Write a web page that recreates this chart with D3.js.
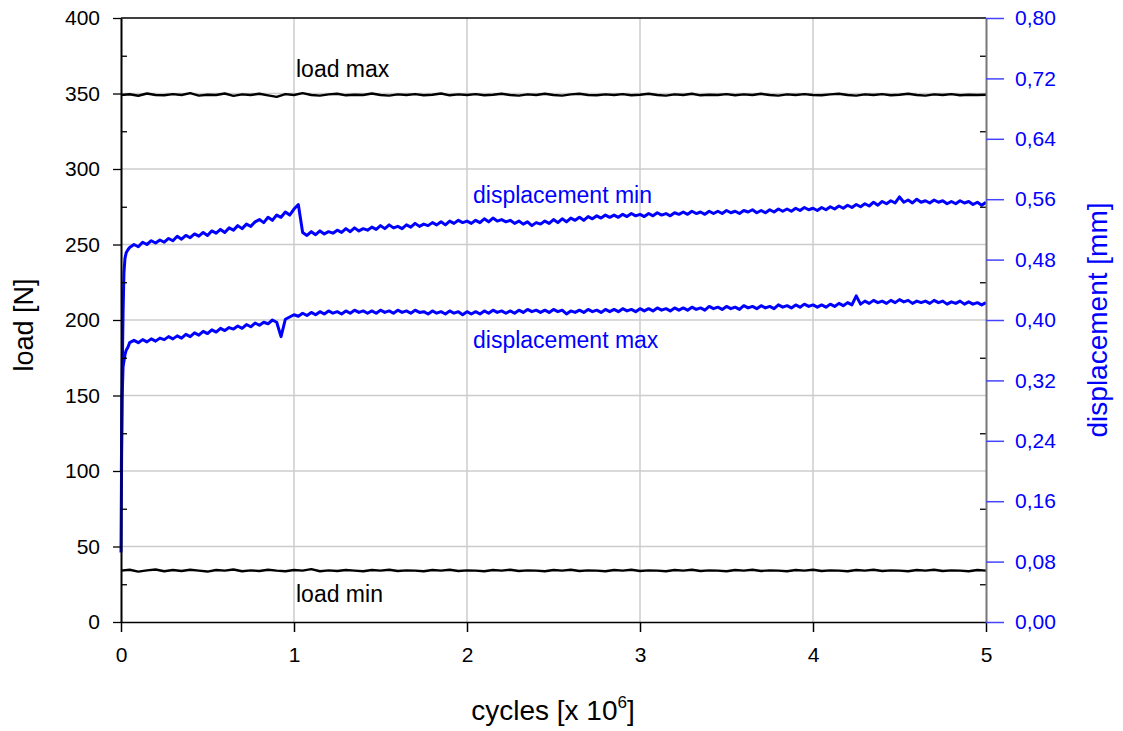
<!DOCTYPE html>
<html>
<head>
<meta charset="utf-8">
<script src="https://cdn.jsdelivr.net/npm/d3@7"></script>
<style>
  html, body { margin: 0; padding: 0; background: #ffffff; }
  svg { display: block; font-family: "Liberation Sans", Arial, sans-serif; }
</style>
</head>
<body>
<svg id="chart" width="1123" height="731"></svg>
<script>
// ---------------- data ----------------
const xTicks = [0, 1, 2, 3, 4, 5];
const loadTicks = [0, 50, 100, 150, 200, 250, 300, 350, 400];
const loadMinorTicks = [25, 75, 125, 175, 225, 275, 325, 375];
const dispTicks = [0, 0.08, 0.16, 0.24, 0.32, 0.40, 0.48, 0.56, 0.64, 0.72, 0.80];

// load series sampled every 0.05 x10^6 cycles, from 0 to 5
const loadStep = 0.05;
const loadMax = [
  349.0,349.5,348.5,350.0,349.0,348.8,349.6,349.0,350.2,348.6,
  349.2,349.0,350.0,348.4,349.4,349.0,349.8,348.8,347.8,349.6,
  349.0,350.2,349.0,348.6,349.4,349.8,348.8,349.2,349.0,350.0,
  349.0,348.6,349.4,349.0,349.6,348.8,349.2,350.0,348.8,349.4,
  349.0,349.6,348.8,349.2,349.8,349.0,348.6,349.4,349.0,349.8,
  349.0,348.6,349.4,349.8,349.0,348.8,349.4,349.0,349.6,348.8,
  349.2,349.8,349.0,348.6,349.4,349.0,349.8,348.8,349.2,349.0,
  349.6,348.8,349.4,349.0,349.8,349.0,348.6,349.4,349.0,349.6,
  349.0,348.8,349.4,349.8,349.0,348.6,349.4,349.0,349.6,348.8,
  349.2,349.8,349.0,348.6,349.4,349.0,349.6,348.8,349.2,349.0,349.2
];
const loadMin = [
  34.0,34.6,33.4,34.2,34.8,33.6,34.4,33.8,34.6,34.0,
  33.4,34.4,34.0,34.8,33.6,34.2,33.8,34.6,34.0,33.6,
  34.4,34.0,35.0,33.6,34.2,33.8,34.4,34.0,33.6,34.4,
  34.0,34.6,33.8,34.2,34.0,33.6,34.4,34.0,34.6,33.8,
  34.2,34.0,33.6,34.4,34.0,34.6,33.8,34.2,34.0,33.6,
  34.4,34.0,34.6,33.8,34.2,34.0,33.6,34.4,34.0,34.6,
  33.8,34.2,34.0,33.6,34.4,34.0,34.6,33.8,34.2,34.0,
  33.6,34.4,34.0,34.6,33.8,34.2,34.0,33.6,34.4,34.0,
  34.6,33.8,34.2,34.0,33.6,34.4,34.0,34.6,33.8,34.2,
  34.0,33.6,34.4,34.0,34.6,33.8,34.2,34.0,33.6,34.4,34.0
];

// displacement start-up phase: [cycles x10^6, mm]
const dispMinStart = [[0.002,0.200],[0.007,0.330],[0.012,0.410],[0.017,0.462],[0.023,0.482],[0.030,0.489],[0.040,0.493]];
const dispMaxStart = [[0.000,0.092],[0.003,0.200],[0.006,0.294],[0.012,0.338],[0.023,0.354],[0.030,0.360],[0.040,0.364]];

// displacement sampled every 0.025 x10^6 cycles from 0.05 to 5.0 (mm)
const dispStart = 0.05;
const dispStep = 0.025;
const dispMin = [
  0.496,0.500,0.497,0.503,0.500,0.505,0.502,0.506,
  0.503,0.508,0.505,0.511,0.507,0.512,0.509,0.514,
  0.511,0.516,0.512,0.518,0.515,0.520,0.516,0.522,
  0.519,0.525,0.521,0.527,0.524,0.530,0.533,0.529,
  0.536,0.532,0.539,0.536,0.543,0.539,0.547,0.553,
  0.516,0.512,0.517,0.513,0.518,0.514,0.517,0.515,
  0.519,0.516,0.521,0.517,0.522,0.518,0.521,0.519,
  0.523,0.520,0.525,0.521,0.526,0.522,0.524,0.521,
  0.526,0.523,0.528,0.524,0.527,0.525,0.529,0.526,
  0.530,0.526,0.531,0.528,0.532,0.529,0.531,0.528,
  0.532,0.529,0.534,0.530,0.535,0.531,0.533,0.530,
  0.532,0.528,0.531,0.527,0.530,0.525,0.529,0.527,
  0.531,0.528,0.533,0.529,0.534,0.530,0.535,0.532,
  0.536,0.532,0.537,0.534,0.538,0.535,0.539,0.536,
  0.539,0.536,0.540,0.537,0.541,0.538,0.540,0.537,
  0.541,0.538,0.542,0.539,0.541,0.538,0.542,0.540,
  0.543,0.540,0.544,0.541,0.543,0.540,0.544,0.541,
  0.544,0.541,0.545,0.542,0.544,0.541,0.545,0.543,
  0.546,0.542,0.545,0.542,0.546,0.543,0.547,0.544,
  0.547,0.544,0.548,0.545,0.549,0.546,0.548,0.545,
  0.549,0.546,0.550,0.547,0.551,0.548,0.552,0.549,
  0.553,0.550,0.554,0.551,0.556,0.552,0.557,0.554,
  0.558,0.555,0.563,0.556,0.559,0.555,0.560,0.556,
  0.558,0.555,0.559,0.556,0.558,0.554,0.557,0.554,
  0.558,0.555,0.557,0.553,0.556,0.552,0.556
];
const dispMax = [
  0.370,0.373,0.370,0.374,0.371,0.375,0.372,0.376,
  0.374,0.378,0.375,0.379,0.376,0.381,0.378,0.383,
  0.380,0.385,0.382,0.387,0.384,0.389,0.386,0.390,
  0.388,0.392,0.389,0.394,0.391,0.396,0.393,0.397,
  0.395,0.400,0.397,0.378,0.401,0.404,0.407,0.405,
  0.409,0.406,0.410,0.407,0.411,0.408,0.412,0.409,
  0.411,0.408,0.412,0.409,0.413,0.410,0.412,0.409,
  0.412,0.409,0.413,0.410,0.412,0.409,0.413,0.410,
  0.412,0.409,0.413,0.410,0.411,0.408,0.412,0.409,
  0.411,0.408,0.412,0.409,0.411,0.407,0.411,0.408,
  0.411,0.408,0.412,0.409,0.413,0.410,0.412,0.409,
  0.412,0.409,0.413,0.410,0.414,0.411,0.413,0.410,
  0.413,0.410,0.414,0.411,0.413,0.408,0.412,0.410,
  0.413,0.410,0.414,0.411,0.413,0.410,0.414,0.411,
  0.414,0.411,0.415,0.412,0.414,0.411,0.415,0.412,
  0.415,0.412,0.416,0.413,0.415,0.412,0.416,0.413,
  0.416,0.413,0.417,0.414,0.416,0.413,0.418,0.415,
  0.417,0.414,0.418,0.415,0.417,0.414,0.419,0.416,
  0.418,0.415,0.419,0.416,0.418,0.415,0.420,0.417,
  0.419,0.416,0.420,0.417,0.421,0.418,0.420,0.417,
  0.420,0.417,0.421,0.418,0.422,0.419,0.423,0.420,
  0.432,0.421,0.425,0.422,0.426,0.423,0.425,0.422,
  0.426,0.423,0.427,0.424,0.426,0.422,0.425,0.423,
  0.425,0.422,0.426,0.423,0.425,0.421,0.424,0.422,
  0.425,0.421,0.424,0.421,0.423,0.420,0.423
];

const labels = {
  loadMax: "load max", loadMin: "load min",
  dispMin: "displacement min", dispMax: "displacement max",
  xTitle: "cycles [x 10", xSup: "6", yTitle: "load [N]", y2Title: "displacement [mm]"
};

// ---------------- chart ----------------
const svg = d3.select("#chart");
const L = 121, R = 986, T = 18, B = 622;
const BLUE = "#0000ff";

const x = d3.scaleLinear().domain([0, 5]).range([L, R]);
const y = d3.scaleLinear().domain([0, 400]).range([B, T]);
const y2 = d3.scaleLinear().domain([0, 0.8]).range([B, T]);

svg.append("rect").attr("width", 1123).attr("height", 731).attr("fill", "#fff");

// grid
const grid = svg.append("g");
grid.selectAll(".gh").data(loadTicks.filter(d => d > 0 && d < 400)).enter().append("line")
  .attr("x1", L).attr("x2", R).attr("y1", d => y(d)).attr("y2", d => y(d))
  .attr("stroke", "#cccccc").attr("stroke-width", 1.5);
grid.selectAll(".gv").data(xTicks.filter(d => d > 0 && d < 5)).enter().append("line")
  .attr("y1", T).attr("y2", B).attr("x1", d => x(d)).attr("x2", d => x(d))
  .attr("stroke", "#cccccc").attr("stroke-width", 1.5);

// series
const loadPts = arr => arr.map((v, i) => [i * loadStep, v]);
const dispPts = (start, arr) => start.concat(arr.map((v, i) => [dispStart + i * dispStep, v]));

const lineLoad = d3.line().x(d => x(d[0])).y(d => y(d[1]));
const lineDisp = d3.line().x(d => x(d[0])).y(d => y2(d[1]));

svg.append("path").datum(loadPts(loadMax)).attr("d", lineLoad)
  .attr("fill", "none").attr("stroke", "#000").attr("stroke-width", 2.4).attr("stroke-linejoin", "round");
svg.append("path").datum(loadPts(loadMin)).attr("d", lineLoad)
  .attr("fill", "none").attr("stroke", "#000").attr("stroke-width", 2.4).attr("stroke-linejoin", "round");
svg.append("path").datum(dispPts(dispMinStart, dispMin)).attr("d", lineDisp)
  .attr("fill", "none").attr("stroke", BLUE).attr("stroke-width", 3).attr("stroke-linejoin", "round");
svg.append("path").datum(dispPts(dispMaxStart, dispMax)).attr("d", lineDisp)
  .attr("fill", "none").attr("stroke", BLUE).attr("stroke-width", 3).attr("stroke-linejoin", "round");

// frame top
svg.append("line").attr("x1", L).attr("x2", R).attr("y1", T).attr("y2", T).attr("stroke", "#000").attr("stroke-width", 1.5);

// axes
const fontTick = 21;
const gLeft = svg.append("g").attr("transform", `translate(${L},0)`)
  .call(d3.axisLeft(y).tickValues(loadTicks).tickSize(8).tickPadding(13).tickSizeOuter(0));
gLeft.select(".domain").attr("stroke", "#000").attr("stroke-width", 2);
gLeft.selectAll(".tick line").attr("stroke", "#000").attr("stroke-width", 1.3);
gLeft.selectAll("text").attr("font-size", fontTick).attr("fill", "#000").attr("font-family", "Liberation Sans, Arial, sans-serif");

const gLeftMinor = svg.append("g").attr("transform", `translate(${L},0)`)
  .call(d3.axisLeft(y).tickValues(loadMinorTicks).tickSize(-6).tickFormat(""));
gLeftMinor.select(".domain").remove();
gLeftMinor.selectAll(".tick line").attr("stroke", "#000").attr("stroke-width", 1.3);

const gRightMinor = svg.append("g").attr("transform", `translate(${R},0)`)
  .call(d3.axisRight(y).tickValues(loadMinorTicks).tickSize(-6).tickFormat(""));
gRightMinor.select(".domain").remove();
gRightMinor.selectAll(".tick line").attr("stroke", "#000").attr("stroke-width", 1.3);

const gBottom = svg.append("g").attr("transform", `translate(0,${B})`)
  .call(d3.axisBottom(x).tickValues(xTicks).tickSize(10).tickPadding(15).tickSizeOuter(0).tickFormat(d3.format("d")));
gBottom.select(".domain").attr("stroke", "#000").attr("stroke-width", 1.5);
gBottom.selectAll(".tick line").attr("stroke", "#000").attr("stroke-width", 1.5);
gBottom.selectAll("text").attr("font-size", fontTick).attr("fill", "#000").attr("font-family", "Liberation Sans, Arial, sans-serif");

const fmtComma = d => d3.format(".2f")(d).replace(".", ",");
const gRight = svg.append("g").attr("transform", `translate(${R},0)`)
  .call(d3.axisRight(y2).tickValues(dispTicks).tickSize(18).tickPadding(11).tickSizeOuter(0).tickFormat(fmtComma));
gRight.select(".domain").attr("stroke", "#777").attr("stroke-width", 2);
gRight.selectAll(".tick line").attr("stroke", "#4444ff").attr("stroke-width", 1.5);
gRight.selectAll("text").attr("font-size", fontTick).attr("fill", BLUE).attr("font-family", "Liberation Sans, Arial, sans-serif");

// annotations
const ann = svg.append("g").attr("font-size", 23);
ann.append("text").attr("x", 296).attr("y", 77).attr("fill", "#000").text(labels.loadMax);
ann.append("text").attr("x", 296).attr("y", 602).attr("fill", "#000").text(labels.loadMin);
ann.append("text").attr("x", 473).attr("y", 203).attr("fill", BLUE).text(labels.dispMin);
ann.append("text").attr("x", 473).attr("y", 348).attr("fill", BLUE).text(labels.dispMax);

// axis titles
const xt = svg.append("text").attr("x", 553).attr("y", 720).attr("text-anchor", "middle")
  .attr("font-size", 28).attr("fill", "#000");
xt.append("tspan").text(labels.xTitle);
xt.append("tspan").attr("font-size", 17).attr("dy", -12).text(labels.xSup);
xt.append("tspan").attr("dy", 12).text("]");

svg.append("text").attr("transform", "translate(33,325) rotate(-90)").attr("text-anchor", "middle")
  .attr("font-size", 27).attr("fill", "#000").text(labels.yTitle);
svg.append("text").attr("transform", "translate(1107,320) rotate(-90)").attr("text-anchor", "middle")
  .attr("font-size", 28).attr("fill", BLUE).text(labels.y2Title);
</script>
</body>
</html>
